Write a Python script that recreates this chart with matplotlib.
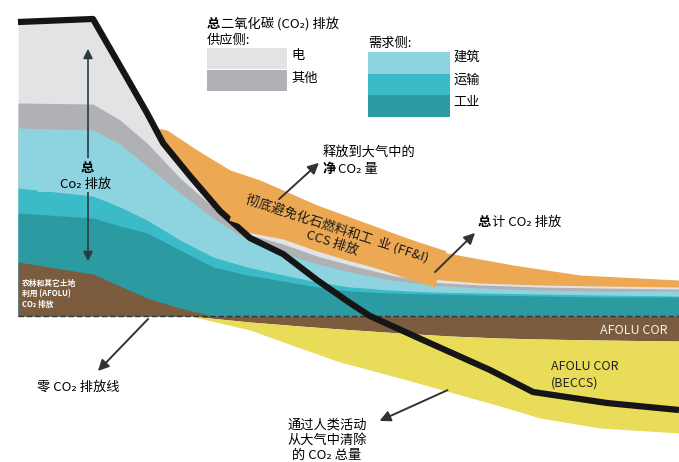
import numpy as np
import matplotlib
matplotlib.use('Agg')
import matplotlib.pyplot as plt

plt.rcParams['font.family'] = ['Noto Sans CJK SC', 'DejaVu Sans']

# diagram drawn in picture units (x to the right, y downward)
zero_y = 316

# emission stack (above the zero line)
stack_x = [18, 93, 120, 147, 180, 213, 247, 283, 317, 350, 390, 430, 480, 540, 600, 679]
elec_top = [24, 22, 68, 113, 165, 201, 232, 239, 251, 261, 271, 279, 283, 285, 286, 287]
other_top = [103, 104, 120, 143, 178, 207, 234, 244, 256, 265, 275, 282, 285, 287, 288, 289]
build_top = [128, 130, 144, 166, 193, 218, 240, 253, 264, 272, 280, 285, 288, 290, 291, 291]
trans_top = [188, 196, 207, 220, 240, 257, 267, 275, 282, 287, 290, 292, 293, 294, 295, 296]
indus_top = [213, 218, 226, 233, 250, 267, 275, 281, 287, 291, 293, 294, 295, 296, 297, 297]
afolu_top = [262, 274, 286, 298, 308, 316, 316, 316, 316, 316, 316, 316, 316, 316, 316, 316]

# total CO2 (orange, FF&I CCS)
total_x = [157, 167, 197, 230, 260, 283, 317, 380, 447, 513, 580, 679]
total_top = [128, 130, 150, 170, 180, 190, 205, 228, 253, 265, 275, 280]

# removals (below the zero line)
cdr_x = [190, 250, 300, 340, 400, 450, 500, 540, 600, 679]
afolu_cdr = [316, 322, 326, 329, 333, 336, 338, 339, 340, 341]
beccs_bot = [316, 330, 348, 362, 378, 392, 406, 418, 428, 433]

# net CO2 line
net_x = [18, 93, 127, 147, 163, 190, 220, 250, 283, 317, 350, 370, 423, 490, 533, 607, 679]
net_y = [22, 19, 78, 113, 143, 176, 211, 238, 254, 280, 303, 316, 340, 370, 392, 403, 410]

c_elec = '#e2e3e5'
c_other = '#b0b1b4'
c_build = '#8dd4e0'
c_trans = '#3bbac8'
c_indus = '#2b9aa1'
c_brown = '#7b5c3f'
c_yellow = '#e8dc58'
c_orange = '#eda854'

fig = plt.figure(figsize=(6.79, 4.62), dpi=100)
ax = fig.add_axes([0, 0, 1, 1])
ax.set_xlim(0, 679)
ax.set_ylim(462, 0)
ax.axis('off')

ax.fill_between(total_x, total_top, zero_y, color=c_orange, lw=0, zorder=1)
for top, col in [(elec_top, c_elec), (other_top, c_other), (build_top, c_build),
                 (trans_top, c_trans), (indus_top, c_indus), (afolu_top, c_brown)]:
    ax.fill_between(stack_x, top, zero_y, color=col, lw=0, zorder=2)

ax.fill_between(cdr_x, zero_y, afolu_cdr, color=c_brown, lw=0, zorder=2)
ax.fill_between(cdr_x, afolu_cdr, beccs_bot, color=c_yellow, lw=0, zorder=2)

ax.plot([18, 679], [zero_y, zero_y], color='#333333', lw=1, ls=(0, (4, 2)), zorder=3)
ax.plot(net_x, net_y, color='#151515', lw=4.5, solid_joinstyle='round',
        solid_capstyle='butt', zorder=4)

# orange label box (rotated rectangle)
box_c = np.array([338, 236])
ang = np.deg2rad(18)
u = np.array([np.cos(ang), np.sin(ang)])
v = np.array([-np.sin(ang), np.cos(ang)])
hw, hh = 108, 19
corners = [box_c - hw * u - hh * v, box_c + hw * u - hh * v,
           box_c + hw * u + hh * v, box_c - hw * u + hh * v]
ax.add_patch(plt.Polygon(corners, closed=True, fc=c_orange, ec='none', zorder=5))
ax.text(335, 236, '彻底避免化石燃料和工  业 (FF&I)\nCCS 排放', rotation=-18,
        rotation_mode='anchor', ha='center', va='center', multialignment='center',
        fontsize=9.5, color='#1a1a1a', linespacing=1.1, zorder=6)

arrow = dict(arrowstyle='-|>', color='#333333', lw=1.4, mutation_scale=16)

# total emissions double arrow on the left
ax.annotate('', xy=(88, 46), xytext=(88, 264),
            arrowprops=dict(arrowstyle='<|-|>', color='#2a3a40', lw=1.2, mutation_scale=14), zorder=5)
ax.add_patch(plt.Rectangle((38, 158), 97, 34, fc=c_build, ec='none', zorder=5))
ax.text(87, 168, '总', ha='center', va='center', fontsize=9.5, fontweight='bold', zorder=6)
ax.text(86, 184, 'Co₂ 排放', ha='center', va='center', fontsize=9.5, zorder=6)

ax.text(22, 294, '农林和其它土地\n利用 (AFOLU)\nCO₂ 排放', ha='left', va='center',
        fontsize=5.6, color='white', fontweight='bold', linespacing=1.2, zorder=6)

ax.text(668, 330, 'AFOLU COR', ha='right', va='center', fontsize=9, color='#f2f2f2', zorder=6)
ax.text(551, 375, 'AFOLU COR\n(BECCS)', ha='left', va='center', fontsize=9,
        color='#222222', linespacing=1.3, zorder=6)

# net released
ax.annotate('', xy=(321, 161), xytext=(277, 201), arrowprops=arrow, zorder=6)
ax.text(323, 152, '释放到大气中的', ha='left', va='center', fontsize=9.5, zorder=6)
ax.text(323, 169, '净', ha='left', va='center', fontsize=9.5, fontweight='bold', zorder=6)
ax.text(338, 169, 'CO₂ 量', ha='left', va='center', fontsize=9.5, zorder=6)

# total emissions
ax.annotate('', xy=(477, 231), xytext=(433, 274), arrowprops=arrow, zorder=6)
ax.text(478, 222, '总', ha='left', va='center', fontsize=9.5, fontweight='bold', zorder=6)
ax.text(492, 222, '计 CO₂ 排放', ha='left', va='center', fontsize=9.5, zorder=6)

# zero line
ax.annotate('', xy=(96, 373), xytext=(150, 317), arrowprops=arrow, zorder=6)
ax.text(37, 387, '零 CO₂ 排放线', ha='left', va='center', fontsize=9.5, zorder=6)

# removals
ax.annotate('', xy=(377, 422), xytext=(450, 389), arrowprops=arrow, zorder=6)
ax.text(327, 440, '通过人类活动\n从大气中清除\n的 CO₂ 总量', ha='center', va='center',
        fontsize=9.5, linespacing=1.2, zorder=6)

# legend
ax.text(207, 24, '总', ha='left', va='center', fontsize=9.5, fontweight='bold', zorder=6)
ax.text(221, 24, '二氧化碳 (CO₂) 排放', ha='left', va='center', fontsize=9.5, zorder=6)
ax.text(207, 40, '供应侧:', ha='left', va='center', fontsize=9.5, zorder=6)
supply = [('电', c_elec), ('其他', c_other)]
for i, (lab, col) in enumerate(supply):
    y0 = 48 + i * 22
    ax.add_patch(plt.Rectangle((207, y0), 80, 21, color=col, lw=0, zorder=5))
    ax.text(291, y0 + 8, lab, ha='left', va='center', fontsize=9.5, zorder=6)

ax.text(368, 43, '需求侧:', ha='left', va='center', fontsize=9.5, zorder=6)
demand = [('建筑', c_build), ('运输', c_trans), ('工业', c_indus)]
for i, (lab, col) in enumerate(demand):
    y0 = 52 + i * 21.5
    ax.add_patch(plt.Rectangle((368, y0), 82, 21.5, color=col, lw=0, zorder=5))
    ax.text(453, y0 + 5 + i * 1.5, lab, ha='left', va='center', fontsize=9.5, zorder=6)

fig.savefig('out.png', dpi=100)
